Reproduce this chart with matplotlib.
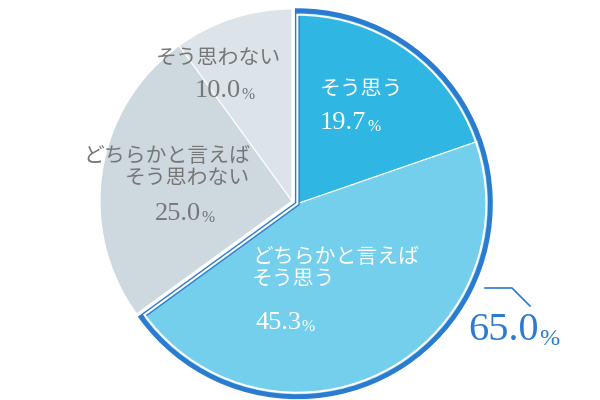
import numpy as np
import matplotlib.pyplot as plt
from matplotlib.patches import Wedge

labels = ["そう思う", "どちらかと言えば\nそう思う", "どちらかと言えば\nそう思わない", "そう思わない"]
values = [19.7, 45.3, 25.0, 10.0]
colors = ["#30b6e2", "#74cfec", "#cdd8df", "#dce4e9"]
total_label = "65.0"

JP = ["Noto Sans CJK JP", "DejaVu Sans"]
SERIF = ["Liberation Serif", "DejaVu Serif"]

fig = plt.figure(figsize=(6, 4), dpi=100)
ax = fig.add_axes([0, 0, 1, 1])
ax.set_xlim(0, 600)
ax.set_ylim(400, 0)
ax.set_aspect("equal")
ax.axis("off")

cx, cy, R = 292, 201, 192
off = 6
start = 90
hl = values[0] + values[1]
mid = np.deg2rad(start - hl / 100 * 360 / 2)
dx, dy = off * np.cos(mid), -off * np.sin(mid)

ang = start
for i, v in enumerate(values):
    span = v / 100 * 360
    t1, t2 = ang - span, ang
    c = (cx + dx, cy + dy) if i < 2 else (cx, cy)
    ax.add_patch(Wedge(c, R, -t2, -t1, facecolor=colors[i], edgecolor="white", lw=0.8))
    ang -= span

t_end = start - hl / 100 * 360
ax.add_patch(Wedge((cx + dx, cy + dy), R + 1, -start, -t_end,
                   facecolor="none", edgecolor="#2b7bd0", lw=3.5, joinstyle="miter"))
ax.add_patch(Wedge((cx + dx, cy + dy), R - 3, -start, -t_end,
                   facecolor="none", edgecolor="white", lw=1.5))

def pct(x, y, num, color, size, ha="left"):
    t = ax.text(x, y, num, color=color, fontsize=size, family=SERIF, ha=ha, va="top")
    ax.annotate("%", xy=(1, 0.12), xycoords=t, xytext=(0.5, 0), textcoords="offset points",
                color=color, fontsize=size * 0.6, family=SERIF, va="baseline")

# (label xy, number xy, colour, label ha)
lbl_cfg = [((320, 78), (320, 112), "white", "left"),
           ((252, 246), (255, 312), "white", "left"),
           ((250, 145), (155, 203), "#777777", "right"),
           ((281, 47), (195, 80), "#777777", "right")]
for i, (lp, pp, col, ha) in enumerate(lbl_cfg):
    ax.text(lp[0], lp[1], labels[i], color=col, fontsize=15, family=JP,
            ha=ha, va="top", linespacing=1.0, multialignment="right" if ha == "right" else "left")
    pct(pp[0], pp[1], f"{values[i]:.1f}", col, 19)

ax.plot([485, 512, 530], [288, 288, 306], color="#2b7bd0", lw=1.2)
pct(468, 312, total_label, "#2b7bd0", 29)

fig.savefig("out.png", dpi=100)
